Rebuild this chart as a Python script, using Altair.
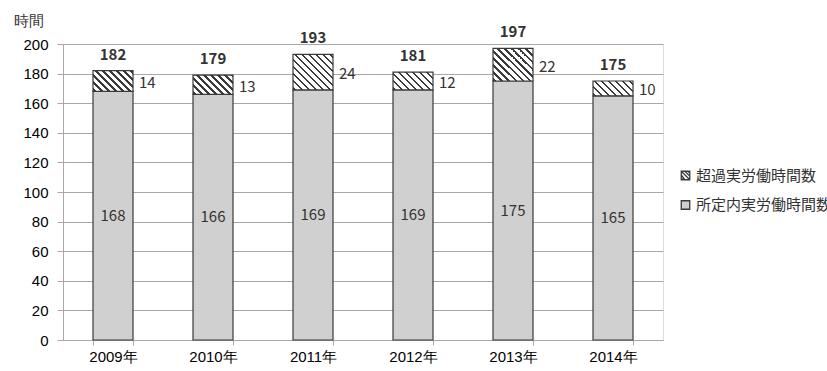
import altair as alt
import pandas as pd

# Monthly working hours by year
years = ["2009年", "2010年", "2011年", "2012年", "2013年", "2014年"]
scheduled = [168, 166, 169, 169, 175, 165]   # 所定内実労働時間数
overtime = [14, 13, 24, 12, 22, 10]          # 超過実労働時間数
totals = [182, 179, 193, 181, 197, 175]

SCHED = "所定内実労働時間数"
OVER = "超過実労働時間数"

FONT = "Noto Sans CJK JP"
TEXT = "#333333"
GRID = "#a8a8a8"
EDGE = "#3a3a3a"
GRAY = "#d0d0d0"

PLOT_W = 600
PLOT_H = 296
BAR_W = 40
PX_PER_UNIT = PLOT_H / 200
FS = 15

df = pd.DataFrame({
    "year": years,
    "sched": scheduled,
    "over": overtime,
    "total": totals,
})
df["sched_mid"] = df["sched"] / 2
df["over_mid"] = df["sched"] + df["over"] / 2

legend_df = pd.DataFrame({
    "year": years * 2,
    "series": [OVER] * len(years) + [SCHED] * len(years),
    "v": totals + scheduled,
})


def hatch(h_px, w_px=BAR_W, period=7.0, dark=2.6, ink=EDGE):
    """Diagonal '\\' stripes as a hard-stop linear gradient over the bar box."""
    r = h_px / w_px
    span = w_px + h_px
    stops = [alt.GradientStop(offset=0, color="white")]
    pos = 1.0
    while pos < span:
        a = pos / span
        b = min((pos + dark) / span, 1.0)
        stops += [
            alt.GradientStop(offset=a, color="white"),
            alt.GradientStop(offset=a, color=ink),
            alt.GradientStop(offset=b, color=ink),
            alt.GradientStop(offset=b, color="white"),
        ]
        pos += period
    stops.append(alt.GradientStop(offset=1, color="white"))
    x2 = (1 + r) / (1 + r * r)
    y2 = 1 - r * (1 + r) / (1 + r * r)
    return alt.LinearGradient(gradient="linear", stops=stops,
                              x1=0, y1=1, x2=x2, y2=y2)


x_enc = alt.X(
    "year:N", sort=years,
    scale=alt.Scale(paddingInner=0.6, paddingOuter=0.3),
    axis=alt.Axis(title=None, tickBand="extent", labelAngle=0, grid=False,
                  tickSize=5, labelPadding=4, domainColor=GRID, tickColor=GRID,
                  labelFontSize=FS),
)

y_axis = alt.Axis(
    values=list(range(0, 201, 20)), title="時間", titleAngle=0,
    titleX=-50, titleY=-24, titleAlign="left", titleBaseline="middle",
    titleFontSize=FS, titleFontWeight="normal", titleColor=TEXT,
    tickSize=6, labelPadding=9, gridColor=GRID, domainColor=GRID,
    tickColor=GRID, labelFontSize=FS,
)
y_scale = alt.Scale(domain=[0, 200], nice=False)

base = alt.Chart(df)

sched_bars = base.mark_bar(fill=GRAY, stroke=EDGE, strokeWidth=1.2).encode(
    x=x_enc,
    y=alt.Y("sched:Q", scale=y_scale, axis=y_axis),
    y2=alt.datum(0),
)

over_layers = []
for yr, ot in zip(years, overtime):
    over_layers.append(
        base.transform_filter(alt.datum.year == yr)
        .mark_bar(fill=hatch(ot * PX_PER_UNIT), stroke=EDGE, strokeWidth=1.2)
        .encode(
            x=x_enc,
            y=alt.Y("sched:Q", scale=y_scale, axis=y_axis),
            y2="total:Q",
        )
    )

sched_text = base.mark_text(font=FONT, fontSize=FS, color=TEXT,
                            baseline="middle").encode(
    x=x_enc,
    y=alt.Y("sched_mid:Q", scale=y_scale, axis=y_axis),
    text="sched:Q",
)

over_text = base.mark_text(font=FONT, fontSize=FS, color=TEXT, align="left",
                           baseline="middle", dx=26, dy=2).encode(
    x=x_enc,
    y=alt.Y("over_mid:Q", scale=y_scale, axis=y_axis),
    text="over:Q",
)

total_text = base.mark_text(font=FONT, fontSize=FS, fontWeight="bold",
                            color=TEXT, baseline="alphabetic", dy=-11).encode(
    x=x_enc,
    y=alt.Y("total:Q", scale=y_scale, axis=y_axis),
    text="total:Q",
)

# Legend glyph for the hatched series: a box with diagonal strokes
hatch_symbol = ("M-1,-1H1V1H-1Z M-1,-1L1,1 M-1,-0.15L-0.15,1 "
                "M-0.15,-1L1,0.15 M-1,0.6L-0.6,1 M0.6,-1L1,-0.6")

legend_cfg = dict(
    title=None, orient="none", legendX=615, legendY=124, padding=0,
    symbolSize=72, symbolStrokeWidth=1.3,
    symbolOpacity=1, labelFontSize=15, labelFont=FONT, labelColor=TEXT,
    labelOffset=3, rowPadding=13.5, labelLimit=400,
)
series_domain = [OVER, SCHED]

legend_points = alt.Chart(legend_df).mark_point(
    filled=True, opacity=0, strokeWidth=1.3
).encode(
    x=x_enc,
    y=alt.Y("v:Q", scale=y_scale, axis=y_axis),
    fill=alt.Fill("series:N",
                  scale=alt.Scale(domain=series_domain, range=["white", GRAY]),
                  legend=alt.Legend(**legend_cfg)),
    stroke=alt.Stroke("series:N",
                      scale=alt.Scale(domain=series_domain, range=[EDGE, EDGE]),
                      legend=alt.Legend(**legend_cfg)),
    shape=alt.Shape("series:N",
                    scale=alt.Scale(domain=series_domain,
                                    range=[hatch_symbol, "square"]),
                    legend=alt.Legend(**legend_cfg)),
)

chart = alt.layer(
    sched_bars, *over_layers, sched_text, over_text, total_text, legend_points
).properties(
    width=PLOT_W, height=PLOT_H,
    autosize=alt.AutoSizeParams(type="none"),
    padding={"left": 63, "top": 44, "right": 164, "bottom": 31},
).configure_view(stroke=None).configure_axis(
    labelFont=FONT, titleFont=FONT, labelColor=TEXT,
).configure(background="white")

chart.save("out.html", embed_options={"renderer": "svg", "actions": False})
